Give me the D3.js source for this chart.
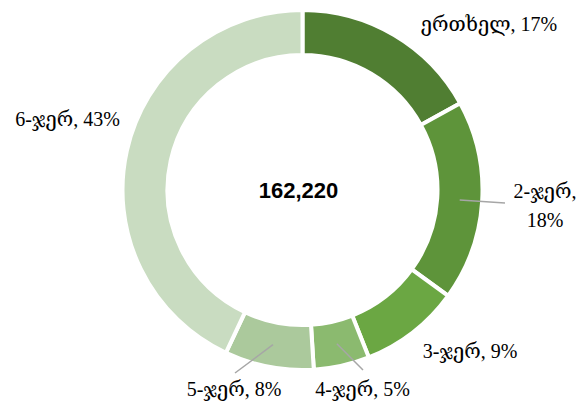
<!DOCTYPE html>
<html>
<head>
<meta charset="utf-8">
<script src="https://cdn.jsdelivr.net/npm/d3@7"></script>
<style>
  html, body { margin: 0; padding: 0; background: #fff; }
  svg { display: block; }
  .lbl { font-family: "Liberation Serif", "DejaVu Serif", serif; font-size: 20px; fill: #000; }
  .total { font-family: "Liberation Sans", Arial, sans-serif; font-weight: bold; font-size: 22px; fill: #000; }
</style>
</head>
<body>
<script>
// ---- data ----
const categories = ["ერთხელ", "2-ჯერ", "3-ჯერ", "4-ჯერ", "5-ჯერ", "6-ჯერ"];
const shares = [17, 18, 9, 5, 8, 43];
const totalLabel = "162,220";
const colors = ["#507E32", "#5E943A", "#6BA743", "#8BBA6F", "#ABC99C", "#C9DCC1"];

// ---- layout ----
const W = 584, H = 402;
const cx = 302.5, cy = 190;
const outerR = 180, innerR = 135;

// label layout: [x, y(baseline), lines, leaderEnd or null]
const labelLayout = [
  { x: 489, y: 31, lines: [categories[0] + ", " + shares[0] + "%"], leader: null },
  { x: 545, y: 198, lines: [categories[1] + ",", shares[1] + "%"], leader: [505, 203] },
  { x: 470, y: 358, lines: [categories[2] + ", " + shares[2] + "%"], leader: null },
  { x: 362.5, y: 396, lines: [categories[3] + ", " + shares[3] + "%"], leader: [363, 370] },
  { x: 234, y: 396, lines: [categories[4] + ", " + shares[4] + "%"], leader: [235, 373] },
  { x: 67.5, y: 126, lines: [categories[5] + ", " + shares[5] + "%"], leader: null }
];

const svg = d3.select("body").append("svg").attr("width", W).attr("height", H);
const g = svg.append("g").attr("transform", `translate(${cx},${cy})`);

const pie = d3.pie().sort(null).value(d => d.v);
const data = pie(categories.map((c, i) => ({ c, v: shares[i], i })));
const arc = d3.arc().innerRadius(innerR).outerRadius(outerR);
const midArc = d3.arc().innerRadius(137).outerRadius(178);

g.selectAll("path.slice").data(data).enter().append("path")
  .attr("class", "slice")
  .attr("d", arc)
  .attr("fill", (d, i) => colors[i])
  .attr("stroke", "#fff")
  .attr("stroke-width", 4)
  .attr("stroke-linejoin", "miter");

// leader lines
data.forEach((d, i) => {
  const L = labelLayout[i];
  if (!L.leader) return;
  const c = midArc.centroid(d);
  svg.append("line")
    .attr("x1", cx + c[0]).attr("y1", cy + c[1])
    .attr("x2", L.leader[0]).attr("y2", L.leader[1])
    .attr("stroke", "#A6A6A6").attr("stroke-width", 1.5);
});

// labels
labelLayout.forEach(L => {
  const t = svg.append("text").attr("class", "lbl").attr("text-anchor", "middle")
    .attr("x", L.x).attr("y", L.y);
  L.lines.forEach((ln, k) => {
    t.append("tspan").attr("x", L.x).attr("dy", k === 0 ? 0 : 28.5).text(ln);
  });
});

// center total
svg.append("text").attr("class", "total").attr("text-anchor", "middle")
  .attr("x", 298.5).attr("y", 198).text(totalLabel);
</script>
</body>
</html>
